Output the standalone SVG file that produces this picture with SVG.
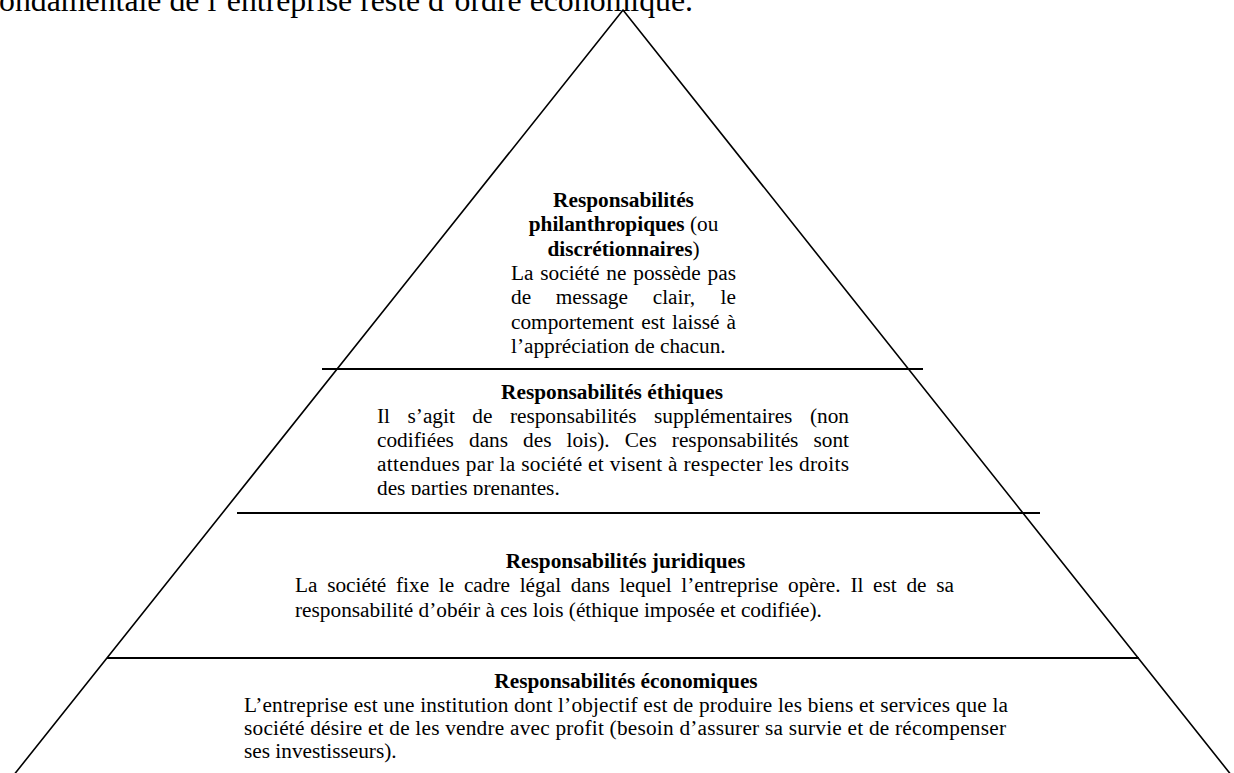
<svg xmlns="http://www.w3.org/2000/svg" width="1234" height="773" viewBox="0 0 1234 773">
<style>
.t{font-family:"Liberation Serif","Times New Roman",serif;font-size:21.3px;fill:#000}
.b{font-weight:bold}
.c{text-anchor:middle}
.edge{stroke:#000;stroke-width:1.6;fill:none}
.sep{stroke:#000;stroke-width:2.2;fill:none}
</style>
<defs>
<clipPath id="clipEth"><rect x="300" y="372" width="660" height="123"/></clipPath>
</defs>
<rect width="1234" height="773" fill="#fff"/>
<text x="-1" y="10.5" style="font-family:'Liberation Serif','Times New Roman',serif;font-size:31.8px" textLength="694" lengthAdjust="spacing">ondamentale de l’entreprise reste d’ordre économique.</text>
<g id="connectors">
<polyline class="edge" points="13,776 623,10 1232,776"/>
<line class="sep" x1="322" y1="369" x2="923" y2="369"/>
<line class="sep" x1="237" y1="513" x2="1040" y2="513"/>
<line class="sep" x1="107" y1="658" x2="1139" y2="658"/>
</g>
<g id="tier-philanthropic" class="t">
<text class="c b" x="623.5" y="207">Responsabilités</text>
<text class="c" x="623.5" y="231.3"><tspan class="b">philanthropiques</tspan> (ou</text>
<text class="c" x="623.5" y="255.6"><tspan class="b">discrétionnaires</tspan>)</text>
<text y="279.9"><tspan x="511">La</tspan><tspan x="540.3">société</tspan><tspan x="606.3">ne</tspan><tspan x="633.3">possède</tspan><tspan x="707.6">pas</tspan></text>
<text y="304.2"><tspan x="511">de</tspan><tspan x="555.8">message</tspan><tspan x="652.7">clair,</tspan><tspan x="720.6">le</tspan></text>
<text y="328.5"><tspan x="511">comportement</tspan><tspan x="641.2">est</tspan><tspan x="672.1">laissé</tspan><tspan x="726.6">à</tspan></text>
<text x="511" y="352.8">l’appréciation de chacun.</text>
</g>
<g id="tier-ethical" class="t" clip-path="url(#clipEth)">
<text class="c b" x="612" y="398.5">Responsabilités éthiques</text>
<text y="422.5"><tspan x="377">Il</tspan><tspan x="407.5">s’agit</tspan><tspan x="472.3">de</tspan><tspan x="509.9">responsabilités</tspan><tspan x="654">supplémentaires</tspan><tspan x="809.9">(non</tspan></text>
<text y="446.5"><tspan x="377">codifiées</tspan><tspan x="469">dans</tspan><tspan x="523.1">des</tspan><tspan x="566.5">lois).</tspan><tspan x="624.8">Ces</tspan><tspan x="671.8">responsabilités</tspan><tspan x="813.5">sont</tspan></text>
<text x="377" y="470.5" textLength="472" lengthAdjust="spacing">attendues par la société et visent à respecter les droits</text>
<text x="377" y="494.5">des parties prenantes.</text>
</g>
<g id="tier-legal" class="t">
<text class="c b" x="625.5" y="567.5">Responsabilités juridiques</text>
<text y="592"><tspan x="295">La</tspan><tspan x="327.2">société</tspan><tspan x="396">fixe</tspan><tspan x="438.8">le</tspan><tspan x="463.9">cadre</tspan><tspan x="519.7">légal</tspan><tspan x="570.8">dans</tspan><tspan x="619.6">lequel</tspan><tspan x="681.3">l’entreprise</tspan><tspan x="788">opère.</tspan><tspan x="850.4">Il</tspan><tspan x="873.1">est</tspan><tspan x="906.4">de</tspan><tspan x="936.3">sa</tspan></text>
<text x="295" y="617">responsabilité d’obéir à ces lois (éthique imposée et codifiée).</text>
</g>
<g id="tier-economic" class="t">
<text class="c b" x="626" y="688">Responsabilités économiques</text>
<text x="244" y="711.5" textLength="764" lengthAdjust="spacing">L’entreprise est une institution dont l’objectif est de produire les biens et services que la</text>
<text x="244" y="734.5" textLength="762" lengthAdjust="spacing">société désire et de les vendre avec profit (besoin d’assurer sa survie et de récompenser</text>
<text x="244" y="757.5">ses investisseurs).</text>
</g>
</svg>
